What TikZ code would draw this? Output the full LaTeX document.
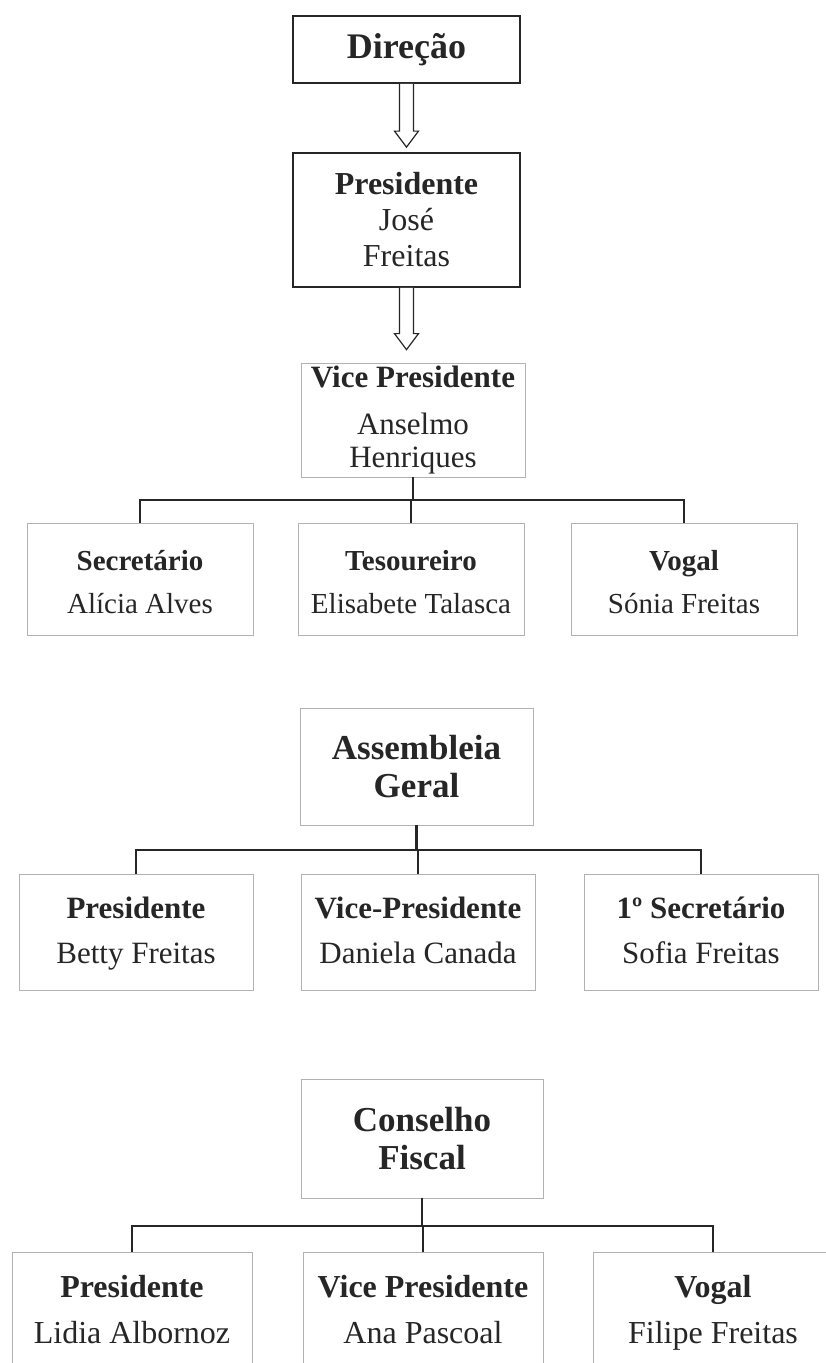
\documentclass[tikz,border=0pt]{standalone}
\usepackage{fontspec}
\setmainfont{Liberation Serif}
\usetikzlibrary{positioning,calc}

\tikzset{
  unit/.style={draw=gray!60, line width=0.8pt, align=center, inner sep=0pt, text=black!85},
  topunit/.style={unit, draw=black!85, line width=1.8pt},
  tree/.style={line width=2.2pt, draw=black!85},
  hollow/.style={line width=1.2pt, draw=black!85, fill=white, line join=miter}
}

% hollow arrow from one box down to the next (#3 = gap above the lower box)
\newcommand{\openarrow}[3]{%
  \draw[hollow] ($(#1.south)+(-7,0)$) -- ($(#1.south |- #2.north)+(-7,-#3-16)$)
    -- ($(#1.south |- #2.north)+(-12,-#3-16)$) -- ($(#1.south |- #2.north)+(0,-#3)$)
    -- ($(#1.south |- #2.north)+(12,-#3-16)$) -- ($(#1.south |- #2.north)+(7,-#3-16)$)
    -- ($(#1.south)+(7,0)$);
}

\begin{document}
\begin{tikzpicture}[x=1pt, y=-1pt]
  \useasboundingbox[fill=white] (0,0) rectangle (825,1363);

  % Direcao
  \node[topunit, minimum width=227, minimum height=67, font=\fontsize{36}{40}\selectfont\bfseries] (dir) at (406.5,49.5) {Direção};
  \node[topunit, minimum width=227, minimum height=134, font=\fontsize{32}{36}\selectfont] (pres) at (406.5,220) {\textbf{Presidente}\\José\\Freitas};
  \node[unit, minimum width=224, minimum height=114, font=\fontsize{31}{33}\selectfont] (vp) at (413,420) {\textbf{Vice Presidente}\\[14pt]Anselmo\\Henriques};

  \openarrow{dir}{pres}{5}
  \openarrow{pres}{vp}{13}

  \foreach \n/\x/\role/\who in {s1/140/Secretário/Alícia Alves, s2/411/Tesoureiro/Elisabete Talasca, s3/684/Vogal/Sónia Freitas}
    \node[unit, minimum width=226, minimum height=112, font=\fontsize{29}{43}\selectfont] (\n) at (\x,579)
      {\rule{0pt}{30pt}\textbf{\role}\\\who\rule[-5pt]{0pt}{5pt}};

  \coordinate (bar1) at (412,500);
  \draw[tree] (vp.south) -- (vp.south |- bar1);
  \draw[tree] (s1.north) |- (bar1) -| (s3.north);
  \draw[tree] (s2.north) -- (s2.north |- bar1);

  % Assembleia Geral
  \node[unit, minimum width=233, minimum height=117, font=\fontsize{35}{38}\selectfont\bfseries] (ag) at (416.5,766.5) {Assembleia\\Geral};

  \foreach \n/\x/\role/\who in {a1/136/Presidente/Betty Freitas, a2/418/Vice-Presidente/Daniela Canada, a3/701/1º Secretário/Sofia Freitas}
    \node[unit, minimum width=234, minimum height=116, font=\fontsize{31}{45}\selectfont] (\n) at (\x,932)
      {\rule{0pt}{28pt}\textbf{\role}\\\who\rule[-11pt]{0pt}{11pt}};

  \coordinate (bar2) at (418,850);
  \draw[tree] (ag.south) -- (ag.south |- bar2);
  \draw[tree] (a1.north) |- (bar2) -| (a3.north);
  \draw[tree] (a2.north) -- (a2.north |- bar2);

  % Conselho Fiscal
  \node[unit, minimum width=242, minimum height=119, font=\fontsize{35}{38}\selectfont\bfseries] (cf) at (422,1138.5) {Conselho\\Fiscal};

  \foreach \n/\x/\role/\who in {c1/132/Presidente/Lidia Albornoz, c2/423/Vice Presidente/Ana Pascoal, c3/713/Vogal/Filipe Freitas}
    \node[unit, minimum width=240, minimum height=114, font=\fontsize{32}{46}\selectfont] (\n) at (\x,1309)
      {\rule{0pt}{30pt}\textbf{\role}\\\who\rule[-8pt]{0pt}{8pt}};

  \coordinate (bar3) at (423,1226);
  \draw[tree] (cf.south) -- (cf.south |- bar3);
  \draw[tree] (c1.north) |- (bar3) -| (c3.north);
  \draw[tree] (c2.north) -- (c2.north |- bar3);
\end{tikzpicture}
\end{document}
